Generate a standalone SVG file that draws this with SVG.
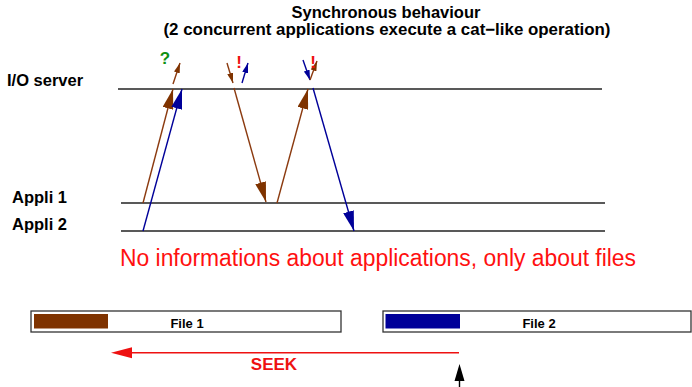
<svg xmlns="http://www.w3.org/2000/svg" width="692" height="387" viewBox="0 0 692 387">
<style>
.t{font-family:"Liberation Sans",Arial,sans-serif;font-weight:bold;fill:#000}
.br{stroke:#8b3a0f;stroke-width:1.4;fill:none}
.bl{stroke:#000099;stroke-width:1.4;fill:none}
.tl{stroke:#222;stroke-width:1.3}
</style>
<defs>
<marker id="hb" viewBox="0 0 20 11" refX="20" refY="5.5" markerWidth="20" markerHeight="11" markerUnits="userSpaceOnUse" orient="auto"><path d="M0,0 L20,5.5 L0,11 z" fill="#7f3300"/></marker>
<marker id="hl" viewBox="0 0 20 11" refX="20" refY="5.5" markerWidth="20" markerHeight="11" markerUnits="userSpaceOnUse" orient="auto"><path d="M0,0 L20,5.5 L0,11 z" fill="#000099"/></marker>
<marker id="sb" viewBox="0 0 10 6" refX="10" refY="3" markerWidth="10" markerHeight="6" markerUnits="userSpaceOnUse" orient="auto"><path d="M0,0 L10,3 L0,6 z" fill="#7f3300"/></marker>
<marker id="sl" viewBox="0 0 10 6" refX="10" refY="3" markerWidth="10" markerHeight="6" markerUnits="userSpaceOnUse" orient="auto"><path d="M0,0 L10,3 L0,6 z" fill="#000099"/></marker>
</defs>
<g id="title">
<text class="t" x="386" y="18" font-size="16.5" text-anchor="middle">Synchronous behaviour</text>
<text class="t" x="387" y="35" font-size="16.5" text-anchor="middle" textLength="447" lengthAdjust="spacingAndGlyphs">(2 concurrent applications execute a cat−like operation)</text>
</g>
<g id="io-server"><line class="tl" x1="118" y1="89" x2="602" y2="89"/><text class="t" x="7" y="86" font-size="16.5">I/O server</text></g>
<g id="appli1"><line class="tl" x1="121" y1="203" x2="605" y2="203"/><text class="t" x="12" y="203" font-size="16.5">Appli 1</text></g>
<g id="appli2"><line class="tl" x1="121" y1="231" x2="605" y2="231"/><text class="t" x="12" y="230" font-size="16.5">Appli 2</text></g>
<g id="connectors">
<line class="br" x1="143" y1="203" x2="173" y2="89" marker-end="url(#hb)"/>
<line class="bl" x1="143" y1="231" x2="182" y2="89" marker-end="url(#hl)"/>
<line class="br" x1="234" y1="88" x2="266" y2="202" marker-end="url(#hb)"/>
<line class="br" x1="277" y1="203" x2="308" y2="89" marker-end="url(#hb)"/>
<line class="bl" x1="313" y1="88" x2="354" y2="231" marker-end="url(#hl)"/>
<line class="br" x1="173" y1="84" x2="180" y2="63" marker-end="url(#sb)"/>
<line class="br" x1="227" y1="63" x2="233" y2="83" marker-end="url(#sb)"/>
<line class="bl" x1="242" y1="83" x2="248" y2="63" marker-end="url(#sl)"/>
<line class="bl" x1="303" y1="60" x2="310" y2="80" marker-end="url(#sl)"/>
<line class="br" x1="310" y1="80" x2="317" y2="61" marker-end="url(#sb)"/>
</g>
<g id="marks">
<text class="t" x="165" y="64" font-size="17" text-anchor="middle" style="fill:#109010">?</text>
<text class="t" x="239" y="68" font-size="17" text-anchor="middle" style="fill:#ee1111">!</text>
<text class="t" x="313" y="68" font-size="17" text-anchor="middle" style="fill:#ee1111">!</text>
</g>
<text x="120" y="266" font-family="'Liberation Sans',Arial,sans-serif" font-size="23" fill="#ff1010" textLength="516" lengthAdjust="spacingAndGlyphs">No informations about applications, only about files</text>
<g id="file1">
<rect x="31" y="311" width="310" height="21" fill="#fff" stroke="#333" stroke-width="1.3"/>
<rect x="34" y="314" width="74" height="14.5" fill="#7f3300"/>
<text class="t" x="187" y="328" font-size="13" text-anchor="middle">File 1</text>
</g>
<g id="file2">
<rect x="383" y="311" width="308" height="21" fill="#fff" stroke="#333" stroke-width="1.3"/>
<rect x="385.5" y="314" width="74.5" height="14.5" fill="#000099"/>
<text class="t" x="539" y="328" font-size="13" text-anchor="middle">File 2</text>
</g>
<g id="seek">
<line x1="459" y1="352.7" x2="128" y2="352.7" stroke="#ee1111" stroke-width="1.4"/>
<path d="M111,352.7 L132,347.2 L132,358.2 z" fill="#ee1111"/>
<text class="t" x="274" y="370" font-size="17" text-anchor="middle" style="fill:#ee1111">SEEK</text>
</g>
<g id="pointer">
<line x1="459.5" y1="378" x2="459.5" y2="387" stroke="#000" stroke-width="1.4"/>
<path d="M459.5,364 L464.5,381 L454.5,381 z" fill="#000"/>
</g>
</svg>
